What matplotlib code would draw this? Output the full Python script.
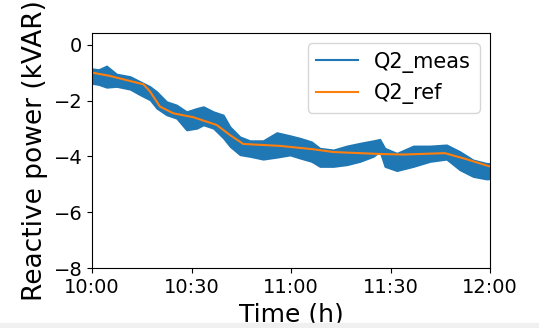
import numpy as np
import matplotlib
matplotlib.use("Agg")
import matplotlib.pyplot as plt
from matplotlib.patches import Rectangle

# Minutes after 10:00
t_ref = [0, 5.4, 9.4, 15.5, 17.5, 20.5, 24.5, 30.5, 37.6, 41.6, 45.6, 56.7,
         66.7, 72.8, 86.8, 93.9, 106.4, 113, 120]
q2_ref = [-0.99, -1.11, -1.23, -1.41, -1.67, -2.21, -2.45, -2.59, -2.87, -3.23,
          -3.55, -3.62, -3.74, -3.84, -3.91, -3.93, -3.88, -4.10, -4.36]

# Envelope of the noisy measurement band
t_meas = [0, 2, 4.4, 7.4, 11.5, 14.5, 17.5, 19.5, 22.5, 25.5, 28.5, 31.6, 33.6,
          36.6, 39.6, 41.6, 44.6, 47.6, 51.6, 55.7, 59.7, 62.7, 66.2, 68.7,
          72.8, 76.8, 80.8, 84.8, 86.8, 88.3, 91.9, 96.9, 101.9, 106.9, 110.9,
          114.9, 118.9, 120]
meas_hi = [-0.85, -0.88, -0.75, -1.04, -1.13, -1.31, -1.49, -1.67, -2.03, -2.15,
           -2.39, -2.27, -2.21, -2.39, -2.51, -2.93, -3.29, -3.43, -3.43, -3.14,
           -3.25, -3.34, -3.47, -3.70, -3.76, -3.62, -3.52, -3.43, -3.38, -3.70,
           -3.88, -3.62, -3.62, -3.58, -3.82, -4.12, -4.24, -4.25]
meas_lo = [-1.38, -1.42, -1.52, -1.49, -1.59, -1.79, -1.97, -2.27, -2.51, -2.63,
           -3.05, -2.99, -2.87, -2.99, -3.34, -3.64, -3.94, -4.00, -4.10, -4.03,
           -3.95, -4.06, -4.18, -4.36, -4.36, -4.30, -4.18, -4.00, -3.82, -4.36,
           -4.51, -4.36, -4.18, -4.10, -4.48, -4.72, -4.81, -4.80]

tick_min = [0, 30, 60, 90, 120]
tick_labels = ["10:00", "10:30", "11:00", "11:30", "12:00"]

fig = plt.figure(figsize=(5.39, 3.28), dpi=100)
ax = fig.add_axes([92/539, 1 - 268/328, 398/539, 235/328])

# measured signal is a dense oscillation, drawn as its envelope
ax.fill_between(t_meas, meas_lo, meas_hi, facecolor="C0", edgecolor="C0",
                linewidth=1.2)
ax.plot([], [], color="C0", label="Q2_meas")
ax.plot(t_ref, q2_ref, color="C1", label="Q2_ref")

ax.set_xlim(0, 120)
ax.set_ylim(-8, 0.43)
ax.set_yticks([-8, -6, -4, -2, 0])
ax.set_xticks(tick_min)
ax.set_xticklabels(tick_labels)
ax.tick_params(labelsize=14)
ax.set_xlabel("Time (h)", fontsize=18)
ax.set_ylabel("Reactive power (kVAR)", fontsize=19)
ax.legend(loc="upper right", fontsize=15)

fig.add_artist(Rectangle((0, 0), 1, 5/328, transform=fig.transFigure,
                         color="#f0f0f0", zorder=10))

fig.savefig("out.png", dpi=100)
